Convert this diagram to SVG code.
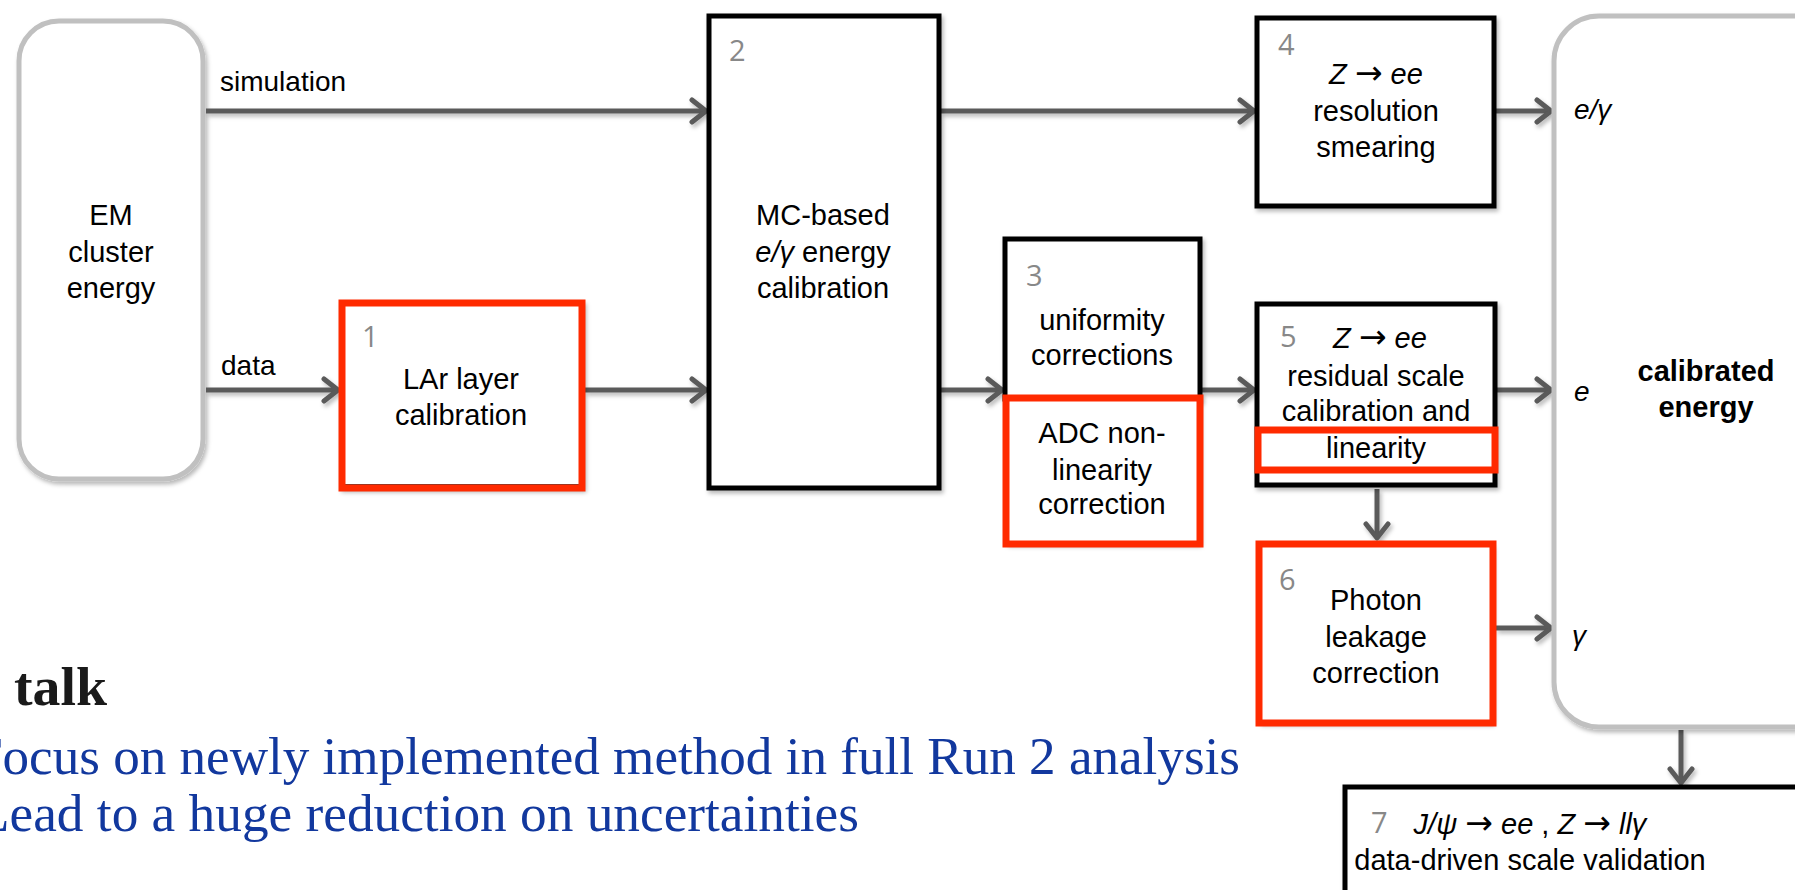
<svg xmlns="http://www.w3.org/2000/svg" width="1795" height="890" viewBox="0 0 1795 890">
  <defs>
    <filter id="shadow" x="-10%" y="-10%" width="130%" height="130%">
      <feDropShadow dx="2" dy="3" stdDeviation="2" flood-color="#000" flood-opacity="0.28"/>
    </filter>
    <marker id="chev" markerUnits="userSpaceOnUse" markerWidth="24" markerHeight="28" viewBox="0 0 24 28" refX="20" refY="14" orient="auto">
      <path d="M6,3 L20,14 L6,25" fill="none" stroke="#5a5a5a" stroke-width="5" stroke-linecap="round" stroke-linejoin="round"/>
    </marker>
    <style>
      .lbl { font-family: "Liberation Sans", Arial, sans-serif; font-size: 29px; fill: #000; text-anchor: middle; }
      .side { font-family: "Liberation Sans", Arial, sans-serif; font-size: 28px; fill: #000; }
      .num { font-family: "Open Sans", "Liberation Sans", sans-serif; font-size: 29px; fill: #888; }
      .it { font-style: italic; }
      .arr { font-family: "DejaVu Sans", sans-serif; font-style: normal; font-size: 33px; }
      .box { fill: #fff; stroke: #000; stroke-width: 5; }
      .hl { fill: none; stroke: #ff2a00; stroke-width: 7; }
      .soft { fill: #fff; stroke: #c0c0c0; stroke-width: 5; }
      .conn line { stroke: #5a5a5a; stroke-width: 5; marker-end: url(#chev); }
      .blue { font-family: "Liberation Serif", "Times New Roman", serif; font-size: 52px; fill: #12389e; }
    </style>
  </defs>

  <rect width="1795" height="890" fill="#fff"/>

  <!-- source -->
  <g id="em-cluster">
    <rect class="soft" x="19" y="21" width="184" height="458" rx="40" filter="url(#shadow)"/>
    <text class="lbl"><tspan x="111" y="225">EM</tspan><tspan x="111" y="262">cluster</tspan><tspan x="111" y="298">energy</tspan></text>
  </g>

  <!-- connectors -->
  <g id="connectors" class="conn" filter="url(#shadow)">
    <line x1="206" y1="111" x2="706" y2="111"/>
    <line x1="941" y1="111" x2="1254" y2="111"/>
    <line x1="1496" y1="111" x2="1551" y2="111"/>
    <line x1="206" y1="390" x2="338" y2="390"/>
    <line x1="585" y1="390" x2="706" y2="390"/>
    <line x1="941" y1="390" x2="1002" y2="390"/>
    <line x1="1202" y1="390" x2="1254" y2="390"/>
    <line x1="1496" y1="390" x2="1551" y2="390"/>
    <line x1="1377" y1="489" x2="1377" y2="538"/>
    <line x1="1496" y1="628" x2="1551" y2="628"/>
    <line x1="1681" y1="730" x2="1681" y2="783"/>
  </g>
  <text class="side" x="220" y="91">simulation</text>
  <text class="side" x="221" y="375">data</text>

  <!-- step 1 -->
  <g id="step1">
    <rect class="box" x="342" y="303" width="240" height="184" filter="url(#shadow)" stroke="none"/>
    <line x1="342" y1="486" x2="582" y2="486" stroke="#000" stroke-width="3"/>
    <rect class="hl" x="342" y="303" width="240" height="185"/>
    <text class="num" x="362" y="347">1</text>
    <text class="lbl"><tspan x="461" y="389">LAr layer</tspan><tspan x="461" y="425">calibration</tspan></text>
  </g>

  <!-- step 2 -->
  <g id="step2">
    <rect class="box" x="709" y="16" width="230" height="472" filter="url(#shadow)"/>
    <text class="num" x="729" y="61">2</text>
    <text class="lbl"><tspan x="823" y="225">MC-based</tspan><tspan x="823" y="262"><tspan class="it">e/γ</tspan> energy</tspan><tspan x="823" y="298">calibration</tspan></text>
  </g>

  <!-- step 3 -->
  <g id="step3">
    <rect class="box" x="1005" y="239" width="195" height="160" filter="url(#shadow)"/>
    <text class="num" x="1026" y="286">3</text>
    <text class="lbl"><tspan x="1102" y="330">uniformity</tspan><tspan x="1102" y="365">corrections</tspan></text>
  </g>
  <g id="adc">
    <rect x="1006" y="398" width="194" height="146" fill="#fff" filter="url(#shadow)"/>
    <rect class="hl" x="1006" y="398" width="194" height="146"/>
    <text class="lbl"><tspan x="1102" y="443">ADC non-</tspan><tspan x="1102" y="480">linearity</tspan><tspan x="1102" y="514">correction</tspan></text>
  </g>

  <!-- step 4 -->
  <g id="step4">
    <rect class="box" x="1257" y="18" width="237" height="188" filter="url(#shadow)"/>
    <text class="num" x="1278" y="55">4</text>
    <text class="lbl"><tspan x="1376" y="84"><tspan class="it">Z</tspan> <tspan class="arr">→</tspan> <tspan class="it">ee</tspan></tspan><tspan x="1376" y="121">resolution</tspan><tspan x="1376" y="157">smearing</tspan></text>
  </g>

  <!-- step 5 -->
  <g id="step5">
    <rect class="box" x="1257" y="304" width="238" height="181" filter="url(#shadow)"/>
    <rect class="hl" x="1258" y="430" width="237" height="40"/>
    <text class="num" x="1280" y="347">5</text>
    <text class="lbl"><tspan x="1380" y="348"><tspan class="it">Z</tspan> <tspan class="arr">→</tspan> <tspan class="it">ee</tspan></tspan><tspan x="1376" y="386">residual scale</tspan><tspan x="1376" y="421">calibration and</tspan><tspan x="1376" y="458">linearity</tspan></text>
  </g>

  <!-- step 6 -->
  <g id="step6">
    <rect x="1259" y="544" width="234" height="179" fill="#fff" filter="url(#shadow)"/>
    <rect class="hl" x="1259" y="544" width="234" height="179"/>
    <text class="num" x="1279" y="590">6</text>
    <text class="lbl"><tspan x="1376" y="610">Photon</tspan><tspan x="1376" y="647">leakage</tspan><tspan x="1376" y="683">correction</tspan></text>
  </g>

  <!-- output -->
  <g id="calibrated">
    <rect class="soft" x="1554" y="16" width="290" height="711" rx="45" filter="url(#shadow)"/>
    <text class="side it" x="1574" y="119">e/γ</text>
    <text class="side it" x="1574" y="401">e</text>
    <text class="side it" x="1572" y="645">γ</text>
    <text class="lbl" font-weight="bold" font-size="26"><tspan x="1706" y="381">calibrated</tspan><tspan x="1706" y="417">energy</tspan></text>
  </g>

  <!-- step 7 -->
  <g id="step7">
    <rect class="box" x="1345" y="787" width="500" height="150" filter="url(#shadow)"/>
    <text class="num" x="1371" y="833">7</text>
    <text class="lbl"><tspan x="1530" y="834"><tspan class="it">J/ψ</tspan> <tspan class="arr">→</tspan> <tspan class="it">ee</tspan> , <tspan class="it">Z</tspan> <tspan class="arr">→</tspan> <tspan class="it">llγ</tspan></tspan><tspan x="1530" y="870">data-driven scale validation</tspan></text>
  </g>

  <!-- slide text -->
  <text x="14" y="705" font-family="'Liberation Serif', 'Times New Roman', serif" font-size="55" font-weight="bold" fill="#1a1a1a" textLength="93" lengthAdjust="spacingAndGlyphs">talk</text>
  <text class="blue" x="-27" y="774" textLength="1267" lengthAdjust="spacingAndGlyphs">Focus on newly implemented method in full Run 2 analysis</text>
  <text class="blue" x="-23" y="831" textLength="882" lengthAdjust="spacingAndGlyphs">Lead to a huge reduction on uncertainties</text>
</svg>
